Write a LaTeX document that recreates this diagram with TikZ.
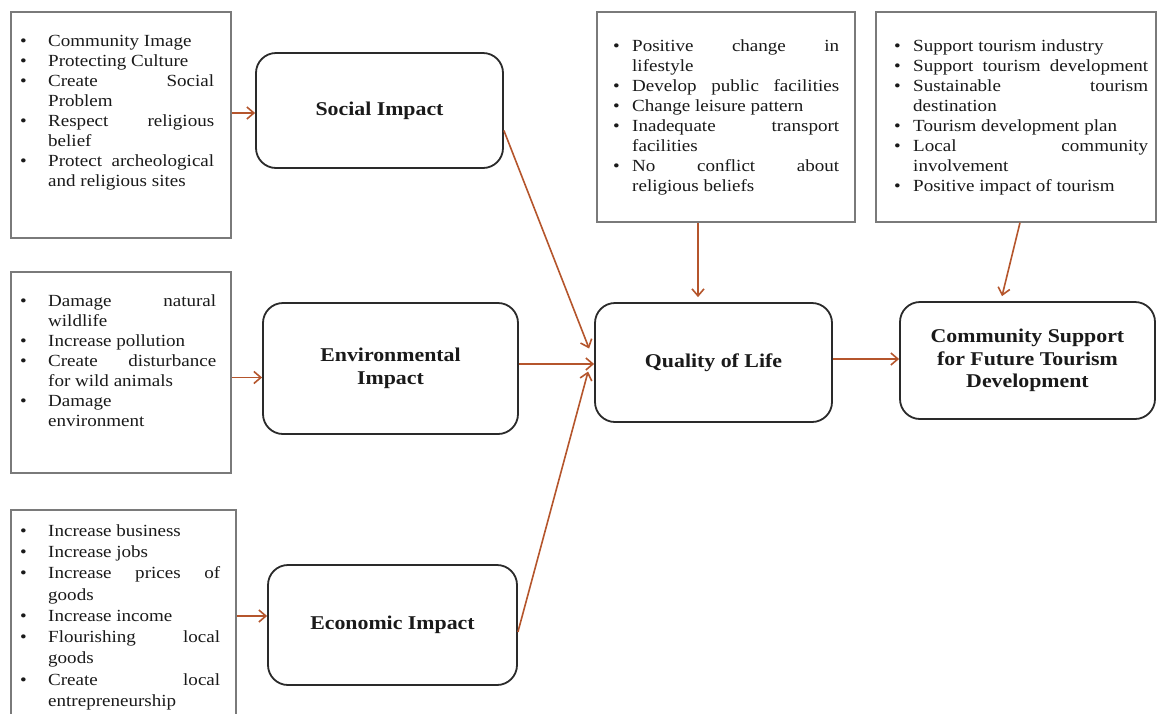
\documentclass[tikz,border=0pt]{standalone}
\usepackage{fontspec}
\setmainfont{Liberation Serif}[FakeStretch=1.12]
\usetikzlibrary{arrows.meta}
\definecolor{arrc}{HTML}{B5552C}
\definecolor{lboxc}{HTML}{7A7A7A}
\definecolor{rboxc}{HTML}{2A2A2A}
\definecolor{txtc}{HTML}{1A1A1A}
\newcommand\lbul[1]{\strut\makebox[#1pt][l]{\textbullet}}
\newcommand\lind[1]{\strut\hspace*{#1pt}}
\newcommand\ljust[2]{\makebox[#1pt][s]{#2}}
\newcommand\listfont{\fontsize{17}{20}\selectfont}
\newcommand\listfontc{\fontsize{17}{21.3}\selectfont}
\newcommand\titlefont{\bfseries\fontsize{19.5}{22.5}\selectfont}
\begin{document}
\begin{tikzpicture}[x=1pt,y=-1pt,
  lbox/.style={draw=lboxc,line width=1.3pt,inner sep=0pt,fill=white},
  rbox/.style={draw=rboxc,line width=1.8pt,rounded corners=20pt,align=center,inner sep=0pt,font=\titlefont,text=txtc},
  ltext/.style={anchor=north west,inner sep=0pt,align=left,text=txtc,font=\listfont},
  arr/.style={draw=arrc,line width=1.6pt,-{Straight Barb[length=7pt,width=12pt]}}]
\useasboundingbox (0,0) rectangle (1160,713);
\fill[white] (0,0) rectangle (1160,713);
\clip (0,0) rectangle (1160,713);

% list boxes
\node[lbox,minimum width=220pt,minimum height=226pt] (A) at (121,125) {};
\node[lbox,minimum width=220pt,minimum height=201pt] (B) at (121,372.5) {};
\node[lbox,minimum width=225pt,minimum height=250pt] (C) at (123.5,635) {};
\node[lbox,minimum width=258pt,minimum height=210pt] (D) at (726,117) {};
\node[lbox,minimum width=280pt,minimum height=210pt] (E) at (1016,117) {};

% list texts
\node[ltext] (tA) at (20,32) {%
\lbul{28}Community Image\\
\lbul{28}Protecting Culture\\
\lbul{28}\ljust{166}{Create Social}\\
\lind{28}Problem\\
\lbul{28}\ljust{166}{Respect religious}\\
\lind{28}belief\\
\lbul{28}\ljust{166}{Protect archeological}\\
\lind{28}and religious sites};

\node[ltext] (tB) at (20,292) {%
\lbul{28}\ljust{168}{Damage natural}\\
\lind{28}wildlife\\
\lbul{28}Increase pollution\\
\lbul{28}\ljust{168}{Create disturbance}\\
\lind{28}for wild animals\\
\lbul{28}Damage\\
\lind{28}environment};

\node[ltext,font=\listfontc] (tC) at (20,521) {%
\lbul{28}Increase business\\
\lbul{28}Increase jobs\\
\lbul{28}\ljust{172}{Increase prices of}\\
\lind{28}goods\\
\lbul{28}Increase income\\
\lbul{28}\ljust{172}{Flourishing local}\\
\lind{28}goods\\
\lbul{28}\ljust{172}{Create local}\\
\lind{28}entrepreneurship};

\node[ltext] (tD) at (613,37) {%
\lbul{19}\ljust{207}{Positive change in}\\
\lind{19}lifestyle\\
\lbul{19}\ljust{207}{Develop public facilities}\\
\lbul{19}Change leisure pattern\\
\lbul{19}\ljust{207}{Inadequate transport}\\
\lind{19}facilities\\
\lbul{19}\ljust{207}{No conflict about}\\
\lind{19}religious beliefs};

\node[ltext] (tE) at (894,37) {%
\lbul{19}Support tourism industry\\
\lbul{19}\ljust{235}{Support tourism development}\\
\lbul{19}\ljust{235}{Sustainable tourism}\\
\lind{19}destination\\
\lbul{19}Tourism development plan\\
\lbul{19}\ljust{235}{Local community}\\
\lind{19}involvement\\
\lbul{19}Positive impact of tourism};

% rounded boxes
\node[rbox,minimum width=247pt,minimum height=115pt] (soc) at (379.5,110.5) {Social Impact};
\node[rbox,minimum width=255pt,minimum height=131pt] (env) at (390.5,368.5) {Environmental\\Impact};
\node[rbox,minimum width=249pt,minimum height=120pt] (eco) at (392.5,625) {Economic Impact};
\node[rbox,minimum width=237pt,minimum height=119pt] (qol) at (713.5,362.5) {Quality of Life};
\node[rbox,minimum width=255pt,minimum height=117pt] (com) at (1027.5,360.5) {Community Support\\for Future Tourism\\Development};

% connectors
\coordinate (dx) at (698,0);
\coordinate (ey) at (0,364);
\coordinate (cy) at (0,359);
\draw[arr] ([yshift=-2.5pt]A.east |- soc.west) -- ([yshift=-2.5pt]soc.west);
\draw[arr] ([yshift=-9pt]B.east |- env.west) -- ([yshift=-9pt]env.west);
\draw[arr] ([yshift=9pt]C.east |- eco.west) -- ([yshift=9pt]eco.west);
\draw[arr] ([yshift=-20pt]soc.east) -- ([xshift=-5pt,yshift=14pt]qol.west);
\draw[arr] (env.east |- ey) -- (qol.west |- ey);
\draw[arr] ([yshift=-7pt]eco.east) -- ([xshift=-6pt,yshift=-9pt]qol.west);
\draw[arr] (D.south -| dx) -- ([yshift=5pt]qol.north -| dx);
\draw[arr] ([xshift=4pt]E.south) -- ([xshift=-25.5pt,yshift=5pt]com.north);
\draw[arr] (qol.east |- cy) -- (com.west |- cy);
\end{tikzpicture}
\end{document}
